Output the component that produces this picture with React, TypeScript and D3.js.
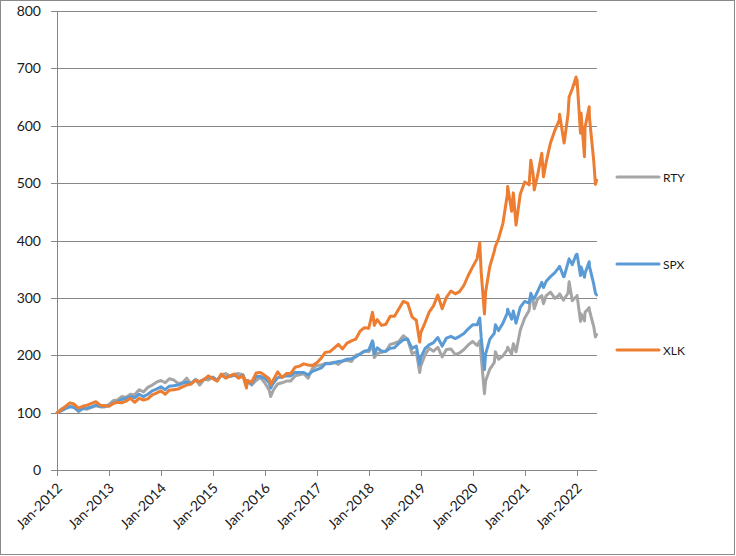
import React from "react";
import * as d3 from "d3";

const dates = [
  "2012-01-03",
  "2012-01-31","2012-02-29","2012-03-31","2012-04-30","2012-05-31","2012-06-30","2012-07-31","2012-08-31","2012-09-30","2012-10-31","2012-11-30","2012-12-31",
  "2013-01-31","2013-02-28","2013-03-31","2013-04-30","2013-05-31","2013-06-30","2013-07-31","2013-08-31","2013-09-30","2013-10-31","2013-11-30","2013-12-31",
  "2014-01-31","2014-02-28","2014-03-31","2014-04-30","2014-05-31","2014-06-30","2014-07-31","2014-08-31","2014-09-30","2014-10-31","2014-11-30","2014-12-31",
  "2015-01-31","2015-02-28","2015-03-31","2015-04-30","2015-05-31","2015-06-30","2015-07-31","2015-08-25","2015-08-31","2015-09-30","2015-10-31","2015-11-30","2015-12-31",
  "2016-01-31","2016-02-11","2016-02-29","2016-03-31","2016-04-30","2016-05-31","2016-06-30","2016-07-31","2016-08-31","2016-09-30","2016-10-31","2016-11-30","2016-12-31",
  "2017-01-31","2017-02-28","2017-03-31","2017-04-30","2017-05-31","2017-06-30","2017-07-31","2017-08-31","2017-09-30","2017-10-31","2017-11-30","2017-12-31",
  "2018-01-26","2018-01-31","2018-02-08","2018-02-28","2018-03-31","2018-04-30","2018-05-31","2018-06-30","2018-07-31","2018-08-31","2018-09-30","2018-10-31","2018-11-30","2018-12-24","2018-12-31",
  "2019-01-31","2019-02-28","2019-03-31","2019-04-30","2019-05-31","2019-06-30","2019-07-31","2019-08-31","2019-09-30","2019-10-31","2019-11-30","2019-12-31",
  "2020-01-31","2020-02-19","2020-02-29","2020-03-23","2020-03-31","2020-04-30","2020-05-31","2020-06-08","2020-06-30","2020-07-31","2020-08-31","2020-09-02","2020-09-30","2020-10-12","2020-10-31","2020-11-30","2020-12-31",
  "2021-01-31","2021-02-12","2021-02-28","2021-03-08","2021-03-31","2021-04-30","2021-05-12","2021-05-31","2021-06-30","2021-07-31","2021-08-31","2021-09-02","2021-09-30","2021-10-04","2021-10-31","2021-11-08","2021-11-30","2021-12-27","2021-12-31",
  "2022-01-03","2022-01-27","2022-01-31","2022-02-24","2022-02-28","2022-03-29","2022-03-31","2022-04-30","2022-05-12","2022-05-20",
];

const rty = [
  100,
  106,109,111,110,102,107,106,109,112,110,110,114,
  121,122,128,127,132,131,140,136,144,148,153,156,
  152,159,157,151,152,160,150,158,148,158,157,162,
  156,166,168,164,167,168,166,151,156,148,156,161,152,
  139,128,139,150,152,155,155,164,166,168,160,177,182,
  183,186,186,188,184,190,191,189,200,202,207,206,
  216,211,196,203,205,207,219,221,224,234,228,203,206,170,181,
  201,212,207,214,197,210,211,201,204,210,218,224,
  217,225,198,133,155,176,187,206,193,199,210,214,202,220,206,244,265,
  278,305,295,281,298,304,290,304,310,299,305,307,296,298,308,328,295,302,301,
  304,259,272,260,275,283,278,250,232,236,
];

const spx = [
  100,
  103,107,110,109,103,107,108,110,113,111,111,112,
  117,119,123,125,128,126,132,128,132,138,141,145,
  140,146,147,148,151,153,151,157,154,158,162,161,
  156,165,162,163,165,162,165,146,154,150,163,163,160,
  152,143,151,161,162,164,164,170,170,170,166,172,175,
  178,185,185,187,189,190,193,194,197,202,207,209,
  225,221,202,213,207,207,212,213,221,227,228,212,216,184,196,
  212,218,222,231,216,230,233,229,233,238,246,253,
  253,265,231,175,202,228,238,253,243,256,274,280,263,277,256,284,294,
  291,308,298,299,311,327,318,329,337,344,354,355,337,337,361,368,358,375,373,
  376,339,354,336,343,363,355,324,308,305,
];

const xlk = [
  100,
  105,111,117,115,108,111,113,116,119,113,112,111,
  116,118,117,120,125,118,125,122,124,131,134,138,
  132,139,140,141,145,148,150,156,154,158,164,159,
  155,167,160,164,167,160,164,143,156,153,169,170,165,
  159,149,157,171,161,168,168,179,181,185,183,182,187,
  195,205,206,212,219,211,221,225,228,242,248,247,
  275,268,252,262,252,254,268,268,281,294,291,267,261,223,239,
  257,275,286,305,281,301,312,307,311,322,339,354,
  368,396,345,272,310,355,381,390,403,430,480,494,451,483,427,481,502,
  497,540,515,488,513,552,511,537,570,592,610,620,576,570,619,650,664,685,671,
  680,587,622,546,597,633,614,539,498,505,
];

const seriesNames = ["RTY", "SPX", "XLK"];
const seriesColors = ["#A5A5A5", "#5B9BD5", "#ED7D31"];
const yTicks = [0, 100, 200, 300, 400, 500, 600, 700, 800];
const xTickYears = [2012, 2013, 2014, 2015, 2016, 2017, 2018, 2019, 2020, 2021, 2022];

const W = 736;
const H = 556;
const left = 57;
const right = 597;
const top = 11;
const bottom = 470;
const FONT = "Lato, 'Open Sans', sans-serif";

export default function App() {
  const parse = d3.timeParse("%Y-%m-%d");
  const ds = dates.map((d) => parse(d) as Date);
  const x = d3
    .scaleTime()
    .domain([new Date(2012, 0, 1), new Date(2022, 4, 23)])
    .range([left, right]);
  const y = d3.scaleLinear().domain([0, 800]).range([bottom, top]);
  const all = [rty, spx, xlk];
  const line = d3
    .line<number>()
    .x((_, i) => x(ds[i]))
    .y((v) => y(v));
  const legendY = [177, 264, 350];
  const fmt = d3.timeFormat("%b-%Y");

  return (
    <svg
      width={W}
      height={H}
      style={{ position: "absolute", left: 0, top: 0, background: "#fff" }}
      fontFamily={FONT}
    >
      <rect x={0.5} y={0.5} width={734} height={554} fill="#fff" stroke="#8a8a8a" strokeWidth={1} />
      {yTicks.map((t) => (
        <g key={t}>
          <line x1={left - 6} x2={right} y1={Math.round(y(t)) + 0.5} y2={Math.round(y(t)) + 0.5} stroke="#878787" strokeWidth={1} />
          <text x={41} y={y(t) + 5} textAnchor="end" fontSize={14} fill="#1a1a1a">
            {t}
          </text>
        </g>
      ))}
      <line x1={left + 0.5} x2={left + 0.5} y1={top} y2={bottom} stroke="#878787" strokeWidth={1} />
      {xTickYears.map((yr) => {
        const d = new Date(yr, 0, 1);
        const xp = x(d);
        return (
          <g key={yr}>
            <line x1={Math.round(xp) + 0.5} x2={Math.round(xp) + 0.5} y1={bottom} y2={bottom + 6} stroke="#878787" strokeWidth={1} />
            <text
              transform={`translate(${xp + 6},${bottom + 19}) rotate(-45)`}
              textAnchor="end"
              fontSize={14}
              fill="#1a1a1a"
            >
              {fmt(d)}
            </text>
          </g>
        );
      })}
      {all.map((vals, i) => (
        <path
          key={seriesNames[i]}
          d={line(vals) || ""}
          fill="none"
          stroke={seriesColors[i]}
          strokeWidth={3}
          strokeLinejoin="round"
          strokeLinecap="round"
        />
      ))}
      {seriesNames.map((n, i) => (
        <g key={n}>
          <line x1={617} x2={659} y1={legendY[i]} y2={legendY[i]} stroke={seriesColors[i]} strokeWidth={3} strokeLinecap="round" />
          <text x={663} y={legendY[i] + 4.5} fontSize={12} fill="#1a1a1a">
            {n}
          </text>
        </g>
      ))}
    </svg>
  );
}
